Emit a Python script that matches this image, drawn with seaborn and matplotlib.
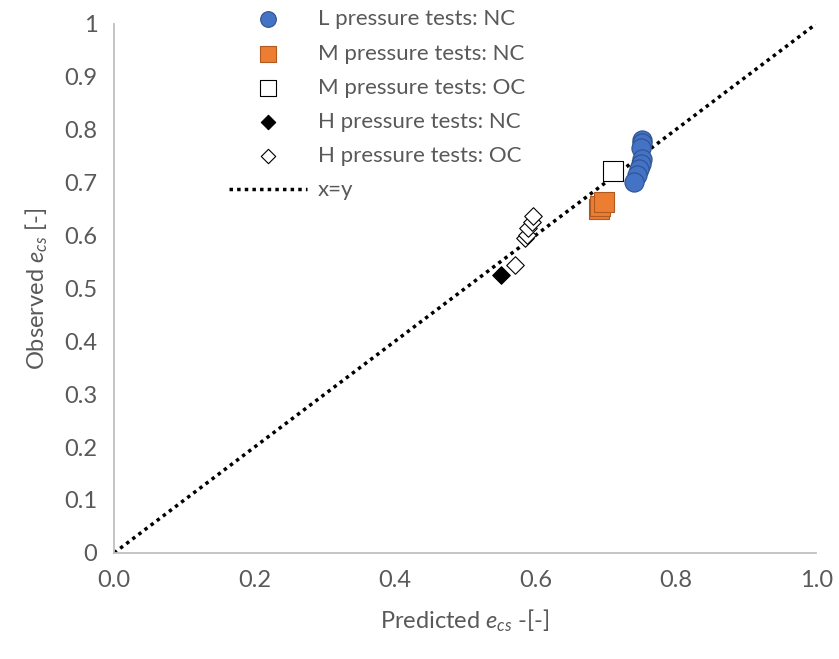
import matplotlib
matplotlib.use("Agg")
import matplotlib.pyplot as plt
import seaborn as sb
import pandas as pd

# predicted / observed e_cs for each test group
l_nc_pred = [0.752, 0.752, 0.750, 0.752, 0.750, 0.748, 0.745, 0.740]
l_nc_obs = [0.780, 0.775, 0.765, 0.745, 0.735, 0.725, 0.715, 0.700]
m_nc_pred = [0.690, 0.692, 0.697]
m_nc_obs = [0.650, 0.656, 0.664]
m_oc_pred = [0.711]
m_oc_obs = [0.721]
h_nc_pred = [0.551]
h_nc_obs = [0.525]
h_oc_pred = [0.571, 0.585, 0.588, 0.590, 0.595, 0.597]
h_oc_obs = [0.544, 0.595, 0.601, 0.614, 0.626, 0.636]
line_xy = [0.0, 1.0]

sb.set_theme(style="white")
plt.rcParams["font.family"] = ["Lato", "DejaVu Sans"]
plt.rcParams["mathtext.fontset"] = "custom"
plt.rcParams["mathtext.it"] = "Lato:italic"
plt.rcParams["mathtext.rm"] = "Lato"

grey = "#595959"
fig = plt.figure(figsize=(8.39, 6.59), dpi=100)
ax = fig.add_axes([0.136, 0.161, 0.837, 0.803])

sb.scatterplot(x=l_nc_pred, y=l_nc_obs, ax=ax, marker="o", s=190, color="#4472C4",
               edgecolor="#2F528F", linewidth=0.8, label="L pressure tests: NC", zorder=3)
sb.scatterplot(x=m_nc_pred, y=m_nc_obs, ax=ax, marker="s", s=220, color="#ED7D31",
               edgecolor="#AE5A21", linewidth=0.8, label="M pressure tests: NC", zorder=3)
sb.scatterplot(x=m_oc_pred, y=m_oc_obs, ax=ax, marker="s", s=220, color="white",
               edgecolor="black", linewidth=0.8, label="M pressure tests: OC", zorder=3)
sb.scatterplot(x=h_nc_pred, y=h_nc_obs, ax=ax, marker="D", s=80, color="black",
               edgecolor="black", linewidth=0.8, label="H pressure tests: NC", zorder=3)
sb.scatterplot(x=h_oc_pred, y=h_oc_obs, ax=ax, marker="D", s=80, color="white",
               edgecolor="black", linewidth=0.8, label="H pressure tests: OC", zorder=3)
sb.lineplot(x=line_xy, y=line_xy, ax=ax, color="black", linestyle=(0, (1, 1.2)),
            linewidth=2.5, label="x=y", zorder=2)

ax.set_xlim(0, 1.0)
ax.set_ylim(0, 1.0)
ax.set_xticks([0, 0.2, 0.4, 0.6, 0.8, 1.0])
ax.set_xticklabels(["0.0", "0.2", "0.4", "0.6", "0.8", "1.0"])
ax.set_yticks([i / 10 for i in range(11)])
ax.set_yticklabels(["0"] + [f"{i / 10:.1f}" for i in range(1, 10)] + ["1"])
ax.tick_params(axis="both", labelsize=17, colors=grey, length=0, pad=12)
for side in ["top", "right"]:
    ax.spines[side].set_visible(False)
for side in ["left", "bottom"]:
    ax.spines[side].set_color("#BFBFBF")
    ax.spines[side].set_linewidth(1.3)

ax.set_xlabel(r"Predicted $e_{cs}$ -[-]", fontsize=17, color=grey, labelpad=12)
ax.set_ylabel(r"Observed $e_{cs}$ [-]", fontsize=17, color=grey, labelpad=10)

leg = ax.legend(loc="upper left", bbox_to_anchor=(0.135, 1.065), frameon=False,
                fontsize=16, labelcolor=grey, handlelength=3.5, handletextpad=0.5,
                labelspacing=0.64, markerscale=0.82)

fig.savefig("out.png", dpi=100)
